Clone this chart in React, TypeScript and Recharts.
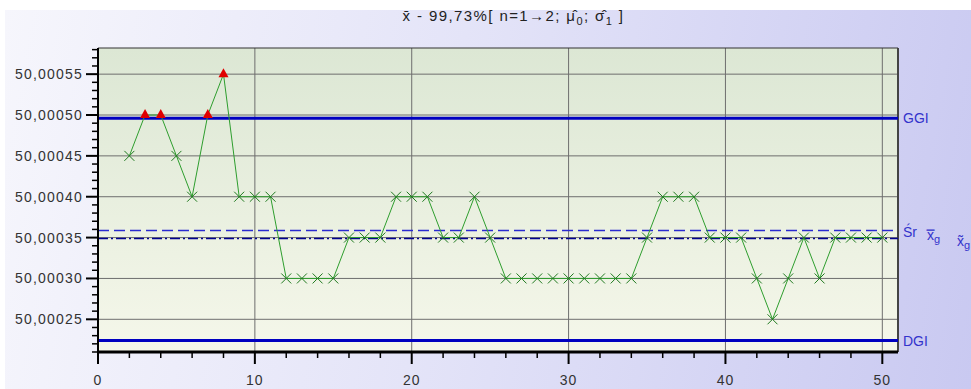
import React from 'react'
import { CartesianGrid, ComposedChart, Line, ReferenceLine, XAxis, YAxis } from 'recharts'

// sample number -> subgroup mean
const samples = [
  2, 3, 4, 5, 6, 7, 8, 9, 10, 11, 12, 13, 14, 15, 16, 17, 18, 19, 20, 21, 22, 23, 24, 25, 26,
  27, 28, 29, 30, 31, 32, 33, 34, 35, 36, 37, 38, 39, 40, 41, 42, 43, 44, 45, 46, 47, 48, 49, 50,
]
const means = [
  50.00045, 50.0005, 50.0005, 50.00045, 50.0004, 50.0005, 50.00055, 50.0004, 50.0004, 50.0004,
  50.0003, 50.0003, 50.0003, 50.0003, 50.00035, 50.00035, 50.00035, 50.0004, 50.0004, 50.0004,
  50.00035, 50.00035, 50.0004, 50.00035, 50.0003, 50.0003, 50.0003, 50.0003, 50.0003, 50.0003,
  50.0003, 50.0003, 50.0003, 50.00035, 50.0004, 50.0004, 50.0004, 50.00035, 50.00035, 50.00035,
  50.0003, 50.00025, 50.0003, 50.00035, 50.0003, 50.00035, 50.00035, 50.00035, 50.00035,
]

const GGI = 50.000496
const DGI = 50.000224
const targetLine = 50.0003586
const grandMean = 50.000349

const xMajorTicks = [0, 10, 20, 30, 40, 50]
const yMajorTicks = [50.00025, 50.0003, 50.00035, 50.0004, 50.00045, 50.0005, 50.00055]
const xDomain: [number, number] = [0, 51]
const yDomain: [number, number] = [50.00021, 50.000582]

const data = samples.map((s, i) => ({ s, v: means[i] }))

// minor ticks every 2 samples / every 0.00001
const xTicks = Array.from({ length: 26 }, (_, i) => i * 2)
const yTicks = Array.from({ length: 38 }, (_, i) => Number((50 + (21 + i) / 100000).toFixed(5)))

const font = '"Liberation Sans", Arial, sans-serif'
const fmt = (v: number) => v.toFixed(5).replace('.', ',')

const XTick = (p: any) => {
  const { x, y, payload } = p
  const major = xMajorTicks.includes(payload.value)
  return (
    <g>
      <line x1={x} x2={x} y1={y} y2={y + (major ? 12 : 6)} stroke="#000" strokeWidth={major ? 2 : 1.5} />
      {major && (
        <text x={x} y={y + 33} textAnchor="middle" fontSize={14} letterSpacing={1} fill="#333" fontFamily={font}>
          {payload.value}
        </text>
      )}
    </g>
  )
}

const YTick = (p: any) => {
  const { x, y, payload } = p
  const major = yMajorTicks.some((t) => Math.abs(t - payload.value) < 1e-9)
  return (
    <g>
      <line x1={x - (major ? 12 : 6)} x2={x} y1={y} y2={y} stroke="#000" strokeWidth={major ? 2 : 1.5} />
      {major && (
        <text x={x - 15} y={y + 5} textAnchor="end" fontSize={14} letterSpacing={1.2} fill="#333" fontFamily={font}>
          {fmt(payload.value)}
        </text>
      )}
    </g>
  )
}

const Marker = (props: any) => {
  const { cx, cy, payload, index } = props
  if (cx == null || cy == null) return <g key={index} />
  if (payload.v > GGI) {
    return <polygon key={index} points={`${cx},${cy - 6} ${cx - 5},${cy + 3} ${cx + 5},${cy + 3}`} fill="#e00000" />
  }
  return (
    <path
      key={index}
      d={`M${cx - 5},${cy - 5}L${cx + 5},${cy + 5}M${cx - 5},${cy + 5}L${cx + 5},${cy - 5}`}
      stroke="#1f7a1f"
      strokeWidth={1}
    />
  )
}

const MeanLabels = (props: any) => {
  const { viewBox } = props
  const x = viewBox.x + viewBox.width + 5
  const y = viewBox.y
  return (
    <g fontFamily={font} fill="#3333cc" fontSize={14}>
      <text x={x} y={y + 6}>Śr</text>
      <text x={x + 24} y={y + 9}>
        x̿<tspan fontSize={11} dy={3}>g</tspan>
      </text>
      <text x={x + 54} y={y + 15}>
        x̃<tspan fontSize={11} dy={3}>g</tspan>
      </text>
    </g>
  )
}

export default function App() {
  return (
    <div style={{ position: 'fixed', left: 0, top: 0, width: 971, height: 389, background: '#fff', overflow: 'hidden' }}>
      <div
        style={{
          position: 'absolute',
          left: 5,
          top: 10,
          right: 0,
          bottom: 0,
          background: 'linear-gradient(100deg, #f6f6fc 0%, #e4e4f8 45%, #c9c9f1 100%)',
        }}
      />
      <div
        style={{
          position: 'absolute',
          left: 0,
          width: 971,
          top: 7,
          textAlign: 'center',
          fontFamily: font,
          fontSize: 15,
          letterSpacing: 1.4,
          color: '#222',
          paddingLeft: 28,
        }}
      >
        x̄ - 99,73%[ n=1→2; μ̂<sub style={{ fontSize: 11 }}>0</sub>; σ̂<sub style={{ fontSize: 11 }}>1</sub> ]
      </div>
      <div style={{ position: 'absolute', left: 0, top: 0 }}>
        <ComposedChart width={971} height={389} data={data} margin={{ top: 48, right: 73, bottom: 0, left: 0 }}>
          <defs>
            <linearGradient id="plotBg" x1="0" y1="0" x2="0" y2="1">
              <stop offset="0%" stopColor="#dce7d4" />
              <stop offset="100%" stopColor="#f5f7ea" />
            </linearGradient>
          </defs>
          <CartesianGrid horizontal={false} vertical={false} fill="url(#plotBg)" />
          <XAxis
            dataKey="s"
            type="number"
            domain={xDomain}
            ticks={xTicks}
            interval={0}
            height={37}
            tickSize={0}
            tickMargin={0}
            tick={<XTick />}
            axisLine={{ stroke: '#000', strokeWidth: 3 }}
            tickLine={false}
          />
          <YAxis
            type="number"
            domain={yDomain}
            ticks={yTicks}
            interval={0}
            width={98}
            tickSize={0}
            tickMargin={0}
            tick={<YTick />}
            axisLine={{ stroke: '#000', strokeWidth: 2 }}
            tickLine={false}
          />
          {yMajorTicks.map((t) => (
            <ReferenceLine key={`gy${t}`} y={t} stroke="#6e6e6e" strokeWidth={1} />
          ))}
          {xMajorTicks.slice(1).map((t) => (
            <ReferenceLine key={`gx${t}`} x={t} stroke="#6e6e6e" strokeWidth={1} />
          ))}
          <ReferenceLine y={yDomain[1]} stroke="#333" strokeWidth={1} />
          <ReferenceLine x={xDomain[1]} stroke="#444" strokeWidth={2} />
          <ReferenceLine
            y={GGI}
            stroke="#0000c0"
            strokeWidth={3}
            label={{ value: 'GGI', position: 'right', fill: '#3333cc', fontSize: 14, fontFamily: font }}
          />
          <ReferenceLine
            y={DGI}
            stroke="#0000c0"
            strokeWidth={3}
            label={{ value: 'DGI', position: 'right', fill: '#3333cc', fontSize: 14, fontFamily: font }}
          />
          <ReferenceLine y={targetLine} stroke="#2a2ad0" strokeWidth={1.5} strokeDasharray="11 5" label={<MeanLabels />} />
          <ReferenceLine y={grandMean} stroke="#000090" strokeWidth={1.5} strokeDasharray="10 3 2 3" />
          <Line
            dataKey="v"
            stroke="#2e9e2e"
            strokeWidth={1}
            dot={<Marker />}
            activeDot={false}
            isAnimationActive={false}
          />
        </ComposedChart>
      </div>
    </div>
  )
}
